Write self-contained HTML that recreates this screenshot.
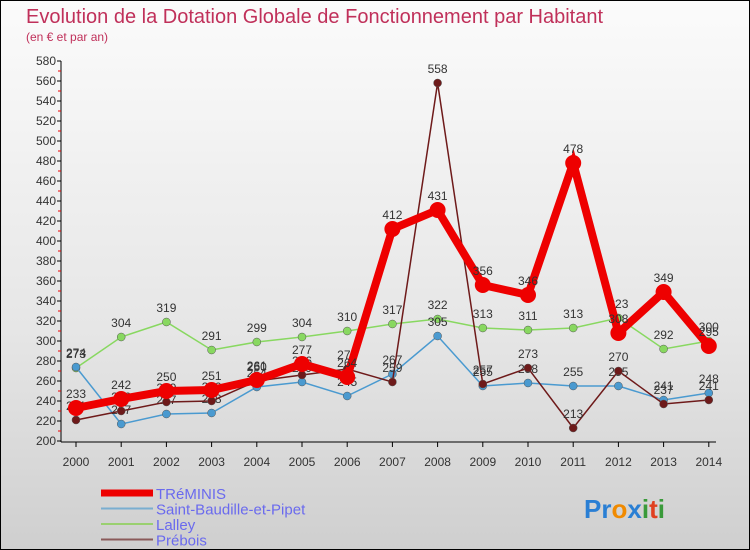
<!DOCTYPE html>
<html><head><meta charset="utf-8"><style>
body{margin:0;}
#wrap{position:relative;width:748px;height:548px;border:1px solid #000;background:linear-gradient(#fbfbfb,#e6e6e6 60%,#cfcfcf);font-family:"Liberation Sans",sans-serif;overflow:hidden}
</style></head><body>
<div id="wrap">
<svg id="svg" width="748" height="548">
<text x="25" y="22" font-size="20" fill="#c0305a">Evolution de la Dotation Globale de Fonctionnement par Habitant</text>
<text x="25" y="40" font-size="12" fill="#c0305a">(en € et par an)</text>
<g id="axes"></g><g id="series"></g><g id="legend"></g>
<text x="583" y="517" font-size="26" font-weight="bold"><tspan fill="#2a7fd4">Pr</tspan><tspan fill="#f08a00">o</tspan><tspan fill="#2a7fd4">x</tspan><tspan fill="#3a9a3a">i</tspan><tspan fill="#e04020">t</tspan><tspan fill="#3a9a3a">i</tspan></text>
</svg></div>
<script>
const years=[2000,2001,2002,2003,2004,2005,2006,2007,2008,2009,2010,2011,2012,2013,2014];
const treminis=[233,242,250,251,261,277,264,412,431,356,346,478,308,349,295];
const stbaudille=[274,217,227,228,254,259,245,267,305,255,258,255,255,241,248];
const lalley=[273,304,319,291,299,304,310,317,322,313,311,313,323,292,300];
const prebois=[221,230,239,240,260,266,272,259,558,257,273,213,270,237,241];
const yTicks=[200,220,240,260,280,300,320,340,360,380,400,420,440,460,480,500,520,540,560,580];
const NS="http://www.w3.org/2000/svg";
const xS=i=>75+i*45.2;
const yS=v=>440-(v-200);
function mk(t,a,p){const e=document.createElementNS(NS,t);for(const k in a)e.setAttribute(k,a[k]);p.appendChild(e);return e;}
const ax=document.getElementById('axes');
let l=mk('line',{x1:60,y1:60,x2:60,y2:441,stroke:'#000'},ax);


l=mk('line',{x1:60,y1:441,x2:715,y2:441,stroke:'#000'},ax);


yTicks.forEach(v=>{
 mk('line',{x1:56,y1:yS(v),x2:60,y2:yS(v),stroke:'#000'},ax);
 if(v<580)mk('line',{x1:57,y1:yS(v+10),x2:60,y2:yS(v+10),stroke:'#e00'},ax);
 const t=mk('text',{x:55,y:yS(v)+4,'font-size':12,'text-anchor':'end',fill:'#333'},ax);t.textContent=v;
 
 
});
years.forEach((y,i)=>{
 mk('line',{x1:xS(i),y1:441,x2:xS(i),y2:446,stroke:'#000'},ax);
 const t=mk('text',{x:xS(i),y:465,'font-size':12,'text-anchor':'middle',fill:'#333'},ax);t.textContent=y;
 
 
});
const sg=document.getElementById('series');
const defs=[
 {d:lalley,c:'#88d860',w:1.5,r:4,n:'lalley'},
 {d:stbaudille,c:'#4a9ad0',w:1.5,r:4,n:'saint-baudille'},
 {d:prebois,c:'#6e1a1a',w:1.5,r:4,n:'prebois'},
 {d:treminis,c:'#ee0000',w:8,r:8,n:'treminis'}];
defs.forEach(s=>{
 const p=mk('polyline',{points:s.d.map((v,i)=>xS(i)+','+yS(v)).join(' '),fill:'none',stroke:s.c,'stroke-width':s.w},sg);
 
 
 s.d.forEach((v,i)=>{
  const c=mk('circle',{cx:xS(i),cy:yS(v),r:s.r,fill:s.c,stroke:s.r>4?'none':'#555','stroke-width':0.5},sg);
  
  
  const t=mk('text',{x:xS(i),y:yS(v)-10,'font-size':12,'text-anchor':'middle',fill:'#333'},sg);t.textContent=v;
  
  
 });
});
const lg=document.getElementById('legend');
const items=[['TRéMINIS','#ee0000',7],['Saint-Baudille-et-Pipet','#7aaed0',2],['Lalley','#9ad070',2],['Prébois','#8a5a5a',2]];
items.forEach((it,i)=>{
 const y=492+i*15.5;
 const ln=mk('line',{x1:100,y1:y,x2:152,y2:y,stroke:it[1],'stroke-width':it[2]},lg);
 
 
 const t=mk('text',{x:155,y:y+6,'font-size':15,fill:'#6a6aee'},lg);t.textContent=it[0];
 
 
});
</script>
</body></html>
